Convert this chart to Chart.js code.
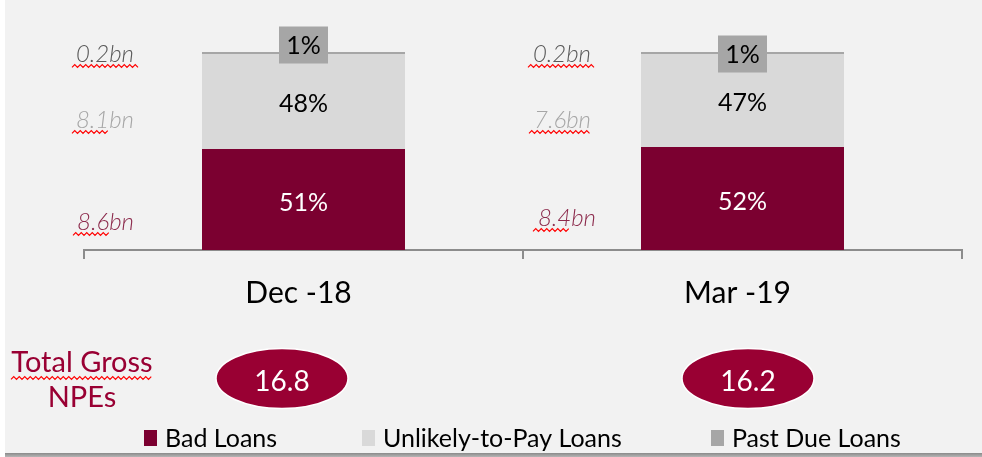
<!DOCTYPE html>
<html>
<head>
<meta charset="utf-8">
<script src="https://cdn.jsdelivr.net/npm/chart.js@4/dist/chart.umd.min.js"></script>
<style>
  html, body { margin: 0; padding: 0; background: #ffffff; }
  #wrap { width: 982px; height: 457px; position: relative; }
</style>
</head>
<body>
<div id="wrap"><canvas id="c" width="982" height="457"></canvas></div>
<script>
// ---- data ----
const categories = ['Dec -18', 'Mar -19'];
const seriesNames = ['Bad Loans', 'Unlikely-to-Pay Loans', 'Past Due Loans'];
const badLoansPct = [51, 52];
const utpLoansPct = [48, 47];
const pastDuePct = [1, 1];
const badLoansBn = ['8.6bn', '8.4bn'];
const utpLoansBn = ['8.1bn', '7.6bn'];
const pastDueBn = ['0.2bn', '0.2bn'];
const totalGrossNPEs = ['16.8', '16.2'];
const totalLabel = ['Total Gross', 'NPEs'];

// ---- style ----
const C_BAD = '#7b0030';
const C_UTP = '#d9d9d9';
const C_PD = '#a6a6a6';
const C_BG = '#f2f2f2';
const C_AXIS = '#8c8c8c';
const C_OVAL = '#990033';
const FONT = 'Lato, "DejaVu Sans", sans-serif';

function wavy(ctx, x1, x2, y) {
  ctx.save();
  ctx.strokeStyle = '#ff0000';
  ctx.lineWidth = 1.2;
  ctx.beginPath();
  let up = true;
  ctx.moveTo(x1, y + 1.4);
  for (let x = x1 + 2.75; x <= x2 + 0.5; x += 2.75) {
    ctx.lineTo(x, up ? y - 1.4 : y + 1.4);
    up = !up;
  }
  ctx.stroke();
  ctx.restore();
}

const backgroundPlugin = {
  id: 'bg',
  beforeDraw(chart) {
    const ctx = chart.ctx;
    ctx.save();
    ctx.fillStyle = '#ffffff';
    ctx.fillRect(0, 0, chart.width, chart.height);
    ctx.fillStyle = C_BG;
    ctx.fillRect(5, 0, chart.width - 5, 454);
    const g = ctx.createLinearGradient(0, 453, 0, 457);
    g.addColorStop(0, '#8a8a8a');
    g.addColorStop(1, '#b5b5b5');
    ctx.fillStyle = g;
    ctx.fillRect(5, 453, chart.width - 5, 4);
    ctx.restore();
  }
};

// layout constants for the annotations
const sideLabelRight = [[134, 134, 134], [591, 591, 596]]; // [pd, utp, bad]
const sideLabelBase = [[62, 128, 230], [62, 128, 226]];
const sideWavy = [[[72, 138], [72, 108], [73, 110]], [[528, 594], [529, 589], [533, 569]]];
const pdBoxDy = [-7, 2];
const ovalCx = [282, 748];

const annotationPlugin = {
  id: 'annot',
  afterDatasetsDraw(chart) {
    const ctx = chart.ctx;
    ctx.save();
    ctx.textAlign = 'center';
    ctx.textBaseline = 'middle';
    const metaBad = chart.getDatasetMeta(0);
    const metaUtp = chart.getDatasetMeta(1);
    const metaPd = chart.getDatasetMeta(2);
    ctx.font = '25px ' + FONT;
    categories.forEach((cat, i) => {
      const b = metaBad.data[i];
      ctx.fillStyle = '#ffffff';
      ctx.fillText(badLoansPct[i] + '%', b.x, (b.y + b.base) / 2 + 3);
      const u = metaUtp.data[i];
      ctx.fillStyle = '#000000';
      ctx.fillText(utpLoansPct[i] + '%', u.x, (u.y + u.base) / 2 + 2);
      const p = metaPd.data[i];
      const cy = p.y + pdBoxDy[i];
      ctx.fillStyle = C_PD;
      ctx.fillRect(p.x - 24.5, cy - 18.5, 49, 37);
      ctx.fillStyle = '#000000';
      ctx.fillText(pastDuePct[i] + '%', p.x, cy + 1);
    });
    // side amount labels
    ctx.textAlign = 'right';
    ctx.textBaseline = 'alphabetic';
    ctx.font = 'italic 300 24px ' + FONT;
    const sideTexts = [pastDueBn, utpLoansBn, badLoansBn];
    const sideColors = ['#595959', '#a6a6a6', '#8c2a4c'];
    categories.forEach((cat, i) => {
      for (let k = 0; k < 3; k++) {
        ctx.fillStyle = sideColors[k];
        ctx.fillText(sideTexts[k][i], sideLabelRight[i][k], sideLabelBase[i][k]);
        wavy(ctx, sideWavy[i][k][0], sideWavy[i][k][1], sideLabelBase[i][k] + 4);
      }
    });
    // total gross label
    ctx.textAlign = 'center';
    ctx.fillStyle = C_OVAL;
    ctx.font = '29px ' + FONT;
    ctx.fillText(totalLabel[0], 82, 372);
    ctx.fillText(totalLabel[1], 82, 407);
    wavy(ctx, 11, 153, 378);
    // ovals
    categories.forEach((cat, i) => {
      ctx.beginPath();
      ctx.ellipse(ovalCx[i], 378.5, 66, 30, 0, 0, Math.PI * 2);
      ctx.fillStyle = C_OVAL;
      ctx.fill();
      ctx.lineWidth = 1.5;
      ctx.strokeStyle = '#ffffff';
      ctx.stroke();
      ctx.fillStyle = '#ffffff';
      ctx.font = '28px ' + FONT;
      ctx.textBaseline = 'alphabetic';
      ctx.fillText(totalGrossNPEs[i], ovalCx[i], 391);
    });
    // legend
    const legX = [144, 362, 711];
    const colors = [C_BAD, C_UTP, C_PD];
    ctx.textAlign = 'left';
    ctx.font = '25px ' + FONT;
    seriesNames.forEach((name, k) => {
      ctx.fillStyle = colors[k];
      ctx.fillRect(legX[k], 430, 13, 16);
      ctx.fillStyle = '#000000';
      ctx.fillText(name, legX[k] + 21, 447);
    });
    ctx.restore();
  }
};

new Chart(document.getElementById('c'), {
  type: 'bar',
  data: {
    labels: categories,
    datasets: [
      { label: seriesNames[0], data: badLoansPct, backgroundColor: C_BAD },
      { label: seriesNames[1], data: utpLoansPct, backgroundColor: C_UTP },
      { label: seriesNames[2], data: pastDuePct, backgroundColor: C_PD }
    ]
  },
  options: {
    responsive: false,
    animation: false,
    events: [],
    layout: { padding: { top: 52, left: 84, right: 20, bottom: 147 } },
    datasets: { bar: { categoryPercentage: 1, barPercentage: 0.4624, borderWidth: 0 } },
    plugins: { legend: { display: false }, tooltip: { enabled: false } },
    scales: {
      x: {
        stacked: true,
        afterFit(s) { s.height = 60; },
        grid: { display: true, offset: true, drawOnChartArea: false, tickLength: 9, color: C_AXIS, lineWidth: 2 },
        border: { display: true, color: C_AXIS, width: 2 },
        ticks: { color: '#000000', font: { family: 'Lato', size: 30 }, padding: 16, labelOffset: -5 }
      },
      y: { stacked: true, display: false, min: 0, max: 100 }
    }
  },
  plugins: [backgroundPlugin, annotationPlugin]
});
</script>
</body>
</html>
